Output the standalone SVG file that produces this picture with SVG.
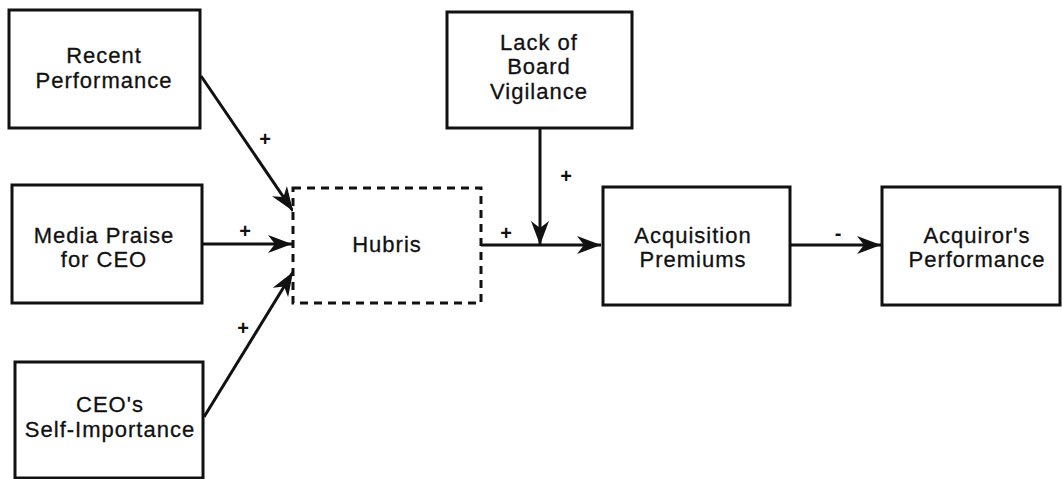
<svg xmlns="http://www.w3.org/2000/svg" width="1063" height="479" viewBox="0 0 1063 479">
<style>
.box{fill:#fff;stroke:#111;stroke-width:3}
.dash{fill:#fff;stroke:#111;stroke-width:3;stroke-dasharray:8 6}
.lbl{font-family:"Liberation Sans",Arial,sans-serif;font-size:22px;letter-spacing:1px;fill:#111;text-anchor:middle;stroke:#111;stroke-width:0.3}
.sign{font-family:"Liberation Sans",Arial,sans-serif;font-size:20px;font-weight:bold;fill:#111;text-anchor:middle}
.conn{stroke:#111;stroke-width:3;fill:none}
</style>
<defs>
<marker id="ah" markerUnits="userSpaceOnUse" markerWidth="26" markerHeight="20" refX="24" refY="9" orient="auto">
<path d="M0,0 L24,9 L0,18 L7,9 Z" fill="#111"/>
</marker>
</defs>
<rect width="1063" height="479" fill="#fff"/>
<g id="connectors">
<line class="conn" x1="201" y1="76" x2="293" y2="211" marker-end="url(#ah)"/>
<line class="conn" x1="202" y1="244" x2="292" y2="244" marker-end="url(#ah)"/>
<line class="conn" x1="204" y1="417" x2="293" y2="272" marker-end="url(#ah)"/>
<line class="conn" x1="481" y1="245" x2="601" y2="245" marker-end="url(#ah)"/>
<line class="conn" x1="540" y1="128" x2="540" y2="245" marker-end="url(#ah)"/>
<line class="conn" x1="790" y1="245" x2="881" y2="245" marker-end="url(#ah)"/>
<text class="sign" x="265" y="146">+</text>
<text class="sign" x="245" y="238">+</text>
<text class="sign" x="243" y="335">+</text>
<text class="sign" x="506" y="240">+</text>
<text class="sign" x="566" y="183">+</text>
<text class="sign" x="838" y="240">-</text>
</g>
<g id="recent">
<rect class="box" x="9" y="10" width="191" height="118"/>
<text class="lbl" x="104" y="63">Recent</text>
<text class="lbl" x="104" y="88">Performance</text>
</g>
<g id="media">
<rect class="box" x="12" y="185" width="190" height="118"/>
<text class="lbl" x="104" y="243">Media Praise</text>
<text class="lbl" x="104" y="267">for CEO</text>
</g>
<g id="ceo">
<rect class="box" x="15" y="362" width="188" height="116"/>
<text class="lbl" x="110" y="412">CEO's</text>
<text class="lbl" x="110" y="437">Self-Importance</text>
</g>
<g id="hubris">
<rect class="dash" x="293" y="188" width="188" height="115"/>
<text class="lbl" x="387" y="252">Hubris</text>
</g>
<g id="board">
<rect class="box" x="447" y="12" width="185" height="116"/>
<text class="lbl" x="539" y="50">Lack of</text>
<text class="lbl" x="539" y="74">Board</text>
<text class="lbl" x="539" y="99">Vigilance</text>
</g>
<g id="premiums">
<rect class="box" x="603" y="187" width="187" height="118"/>
<text class="lbl" x="693" y="243">Acquisition</text>
<text class="lbl" x="693" y="267">Premiums</text>
</g>
<g id="acquiror">
<rect class="box" x="882" y="187" width="178" height="118"/>
<text class="lbl" x="977" y="243">Acquiror's</text>
<text class="lbl" x="977" y="267">Performance</text>
</g>
</svg>
